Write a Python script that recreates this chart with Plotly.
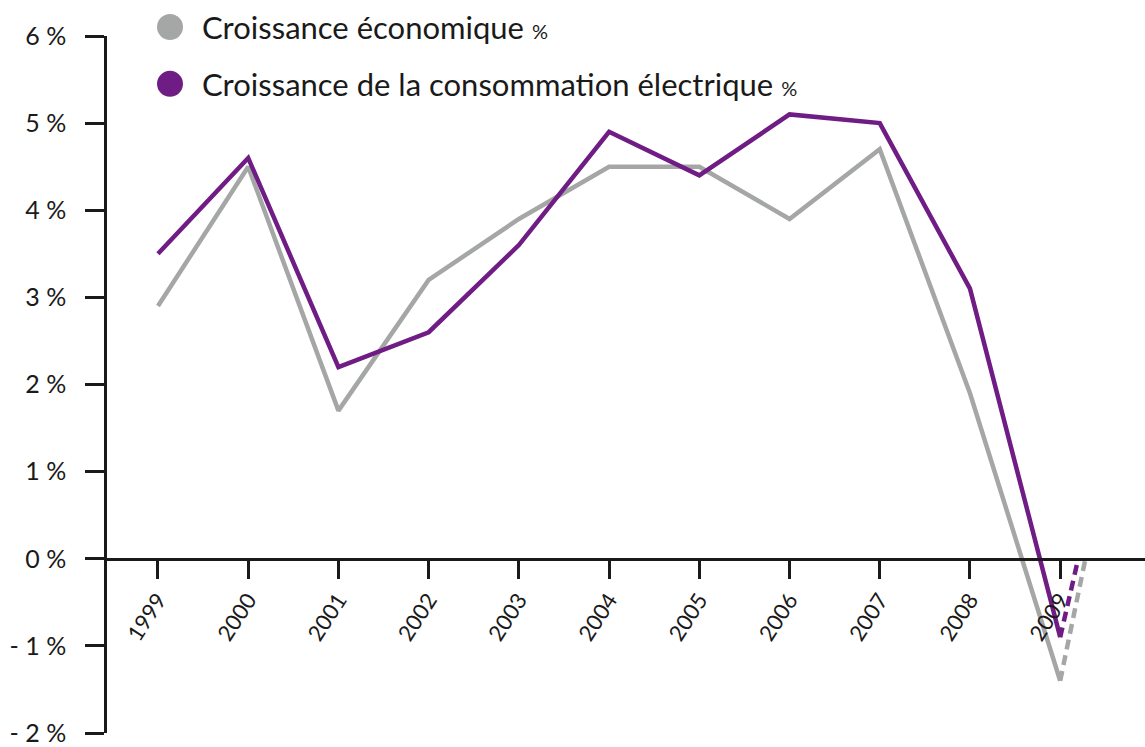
import plotly.graph_objects as go

years = [1999, 2000, 2001, 2002, 2003, 2004, 2005, 2006, 2007, 2008, 2009]
croissance_eco = [2.9, 4.5, 1.7, 3.2, 3.9, 4.5, 4.5, 3.9, 4.7, 1.9, -1.4]
croissance_elec = [3.5, 4.6, 2.2, 2.6, 3.6, 4.9, 4.4, 5.1, 5.0, 3.1, -0.9]
# dashed continuation after 2009
eco_proj_x = [2009, 2009.28]
eco_proj_y = [-1.4, 0.0]
elec_proj_x = [2009, 2009.2]
elec_proj_y = [-0.9, 0.0]
ytick_vals = [-2, -1, 0, 1, 2, 3, 4, 5, 6]
ytick_text = ["- 2 %", "- 1 %", "0 %", "1 %", "2 %", "3 %", "4 %", "5 %", "6 %"]
legend_labels = ["Croissance économique", "Croissance de la consommation électrique"]

GREY = "#a5a7a7"
PURPLE = "#701c85"
INK = "#1a1a1a"
FONT = "Lato"

W, H = 1145, 747
ML, MR, MT, MB = 107, 0, 36, 12
pw, ph = W - ML - MR, H - MT - MB

fig = go.Figure()
fig.add_trace(go.Scatter(x=years, y=croissance_eco, mode="lines",
                         line=dict(color=GREY, width=4.5), showlegend=False))
fig.add_trace(go.Scatter(x=eco_proj_x, y=eco_proj_y, mode="lines",
                         line=dict(color=GREY, width=4.5, dash="10px,6px"), showlegend=False))
fig.add_trace(go.Scatter(x=years, y=croissance_elec, mode="lines",
                         line=dict(color=PURPLE, width=4.5), showlegend=False))
fig.add_trace(go.Scatter(x=elec_proj_x, y=elec_proj_y, mode="lines",
                         line=dict(color=PURPLE, width=4.5, dash="10px,6px"), showlegend=False))

def px_x(p):
    return (p - ML) / pw

def px_y(p):
    return (H - MB - p) / ph

shapes = []
annotations = []
for i, (lab, col) in enumerate(zip(legend_labels, [GREY, PURPLE])):
    cy = 27 + i * 57
    shapes.append(dict(type="circle", xref="paper", yref="paper",
                       xsizemode="pixel", ysizemode="pixel",
                       xanchor=px_x(170), yanchor=px_y(cy),
                       x0=-13, x1=13, y0=-13, y1=13,
                       fillcolor=col, line=dict(width=0)))
    annotations.append(dict(xref="paper", yref="paper", x=px_x(200), y=px_y(cy),
                            xanchor="left", yanchor="middle", showarrow=False,
                            text=lab + ' <span style="font-size:20px">%</span>',
                            font=dict(family=FONT, size=31, color=INK)))

fig.update_layout(
    width=W, height=H,
    margin=dict(l=ML, r=MR, t=MT, b=MB),
    paper_bgcolor="white", plot_bgcolor="white",
    showlegend=False,
    shapes=shapes, annotations=annotations,
    xaxis=dict(range=[1998.435, 2009.94], anchor="free", position=0.25,
               tickvals=years, ticktext=[str(y) for y in years],
               tickangle=-57, ticks="outside", ticklen=18, tickwidth=2.5,
               tickcolor=INK, showline=True, linecolor=INK, linewidth=2.5,
               showgrid=False, zeroline=False,
               tickfont=dict(family=FONT, size=22, color=INK)),
    yaxis=dict(range=[-2, 6], tickvals=ytick_vals, ticktext=ytick_text,
               ticks="outside", ticklen=19, tickwidth=2.5, tickcolor=INK,
               showline=True, linecolor=INK, linewidth=2.5,
               showgrid=False, zeroline=False, ticklabelstandoff=14,
               ticklabeloverflow="allow",
               tickfont=dict(family=FONT, size=25, color=INK)),
)

fig.write_html("out.html")
